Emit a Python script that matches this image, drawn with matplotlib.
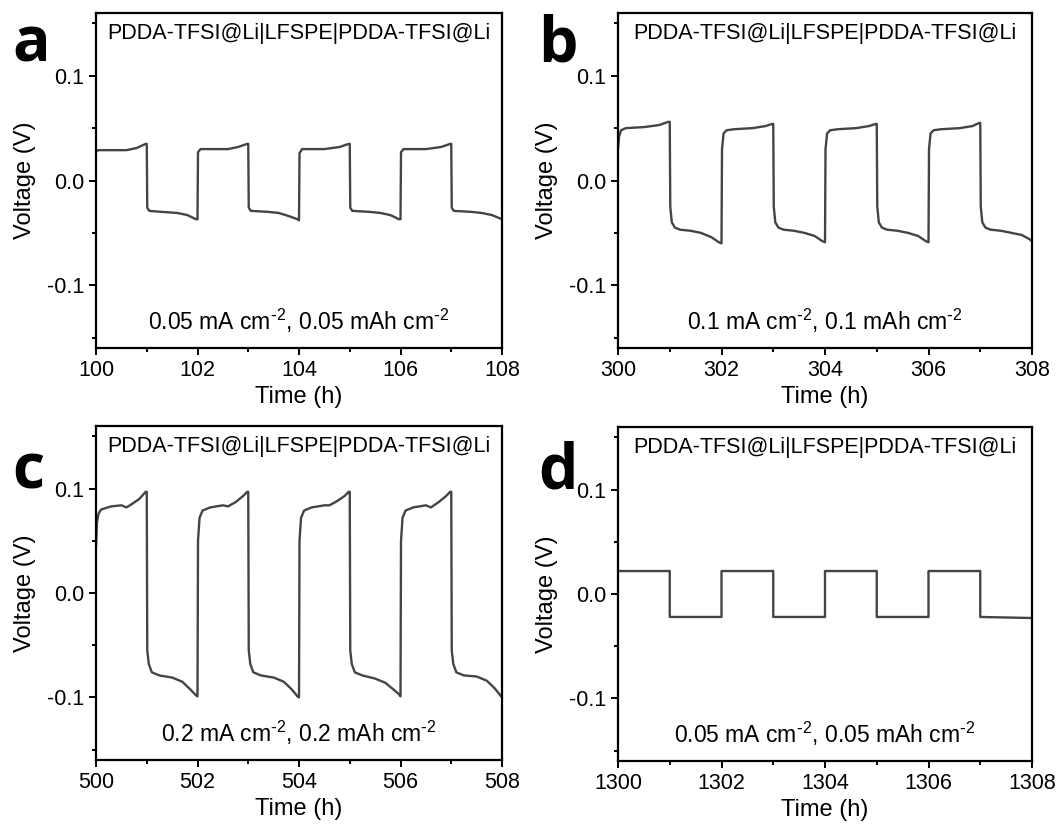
import matplotlib
matplotlib.use("Agg")
import matplotlib.pyplot as plt
from matplotlib.ticker import MultipleLocator, FixedLocator, FixedFormatter

plt.rcParams["font.family"] = ["Liberation Sans", "DejaVu Sans"]
plt.rcParams["mathtext.default"] = "regular"
plt.rcParams["axes.unicode_minus"] = False

# ───────────── data (time in h, voltage in V) ─────────────
cell_label = "PDDA-TFSI@Li|LFSPE|PDDA-TFSI@Li"
panel_letters = ["a", "b", "c", "d"]
condition_labels = [
    r"0.05 mA cm$^{\text{-}2}$, 0.05 mAh cm$^{\text{-}2}$",
    r"0.1 mA cm$^{\text{-}2}$, 0.1 mAh cm$^{\text{-}2}$",
    r"0.2 mA cm$^{\text{-}2}$, 0.2 mAh cm$^{\text{-}2}$",
    r"0.05 mA cm$^{\text{-}2}$, 0.05 mAh cm$^{\text{-}2}$",
]
x_starts = [100, 300, 500, 1300]

time_a = [100.00, 100.05, 100.30, 100.60, 100.80, 100.98, 101.00,
          101.01, 101.05, 101.30, 101.60, 101.80, 101.97, 102.00,
          102.01, 102.06, 102.40, 102.60, 102.80, 102.98, 103.00,
          103.01, 103.05, 103.40, 103.60, 103.80, 103.97, 104.00,
          104.01, 104.06, 104.50, 104.80, 104.98, 105.00,
          105.01, 105.05, 105.40, 105.60, 105.80, 105.97, 106.00,
          106.01, 106.06, 106.50, 106.80, 106.98, 107.00,
          107.01, 107.05, 107.40, 107.60, 107.80, 108.00]
volt_a = [0.028, 0.029, 0.029, 0.029, 0.031, 0.035, 0.035,
          -0.026, -0.029, -0.030, -0.031, -0.033, -0.037, -0.037,
          0.027, 0.030, 0.030, 0.030, 0.032, 0.035, 0.035,
          -0.026, -0.029, -0.030, -0.031, -0.034, -0.037, -0.038,
          0.026, 0.030, 0.030, 0.032, 0.035, 0.035,
          -0.026, -0.029, -0.030, -0.031, -0.033, -0.037, -0.037,
          0.027, 0.030, 0.030, 0.032, 0.035, 0.035,
          -0.026, -0.029, -0.030, -0.031, -0.033, -0.037]

time_b = [300.00, 300.02, 300.06, 300.15, 300.50, 300.80, 300.97, 301.00,
          301.01, 301.04, 301.10, 301.20, 301.40, 301.60, 301.80, 301.95, 302.00,
          302.01, 302.04, 302.10, 302.25, 302.60, 302.85, 302.98, 303.00,
          303.01, 303.04, 303.10, 303.20, 303.40, 303.60, 303.80, 303.95, 304.00,
          304.01, 304.04, 304.10, 304.25, 304.60, 304.85, 304.98, 305.00,
          305.01, 305.04, 305.10, 305.20, 305.40, 305.60, 305.80, 305.95, 306.00,
          306.01, 306.04, 306.10, 306.25, 306.60, 306.85, 306.98, 307.00,
          307.01, 307.04, 307.10, 307.20, 307.40, 307.60, 307.80, 307.95, 308.00]
volt_b = [0.030, 0.042, 0.048, 0.050, 0.051, 0.053, 0.056, 0.056,
          -0.025, -0.040, -0.045, -0.047, -0.048, -0.050, -0.054, -0.059, -0.060,
          0.030, 0.045, 0.048, 0.049, 0.050, 0.052, 0.054, 0.054,
          -0.025, -0.040, -0.045, -0.047, -0.048, -0.050, -0.053, -0.058, -0.059,
          0.030, 0.045, 0.048, 0.049, 0.050, 0.052, 0.054, 0.054,
          -0.025, -0.040, -0.045, -0.047, -0.048, -0.050, -0.053, -0.058, -0.059,
          0.030, 0.045, 0.048, 0.049, 0.050, 0.052, 0.055, 0.055,
          -0.025, -0.040, -0.045, -0.047, -0.048, -0.050, -0.052, -0.056, -0.058]

time_c = [500.00, 500.02, 500.05, 500.10, 500.30, 500.50, 500.60, 500.70, 500.85, 500.98, 501.00,
          501.01, 501.04, 501.10, 501.25, 501.50, 501.70, 501.85, 501.97, 502.00,
          502.01, 502.04, 502.10, 502.25, 502.50, 502.60, 502.75, 502.90, 502.98, 503.00,
          503.01, 503.04, 503.10, 503.25, 503.50, 503.70, 503.85, 503.97, 504.00,
          504.01, 504.04, 504.10, 504.25, 504.50, 504.60, 504.75, 504.90, 504.98, 505.00,
          505.01, 505.04, 505.10, 505.25, 505.50, 505.70, 505.85, 505.97, 506.00,
          506.01, 506.04, 506.10, 506.25, 506.50, 506.60, 506.75, 506.90, 506.98, 507.00,
          507.01, 507.04, 507.10, 507.25, 507.50, 507.70, 507.85, 508.00]
volt_c = [0.045, 0.068, 0.076, 0.080, 0.083, 0.084, 0.082, 0.085, 0.090, 0.097, 0.097,
          -0.055, -0.068, -0.076, -0.079, -0.081, -0.085, -0.092, -0.098, -0.099,
          0.050, 0.072, 0.079, 0.082, 0.084, 0.083, 0.087, 0.093, 0.097, 0.097,
          -0.055, -0.068, -0.076, -0.079, -0.081, -0.085, -0.092, -0.099, -0.100,
          0.050, 0.072, 0.079, 0.082, 0.084, 0.084, 0.088, 0.093, 0.097, 0.097,
          -0.055, -0.068, -0.076, -0.079, -0.082, -0.086, -0.092, -0.097, -0.099,
          0.050, 0.072, 0.079, 0.082, 0.084, 0.082, 0.087, 0.093, 0.097, 0.097,
          -0.055, -0.068, -0.076, -0.079, -0.080, -0.084, -0.091, -0.100]

time_d = [1300.0, 1301.0, 1301.0, 1302.0, 1302.0, 1303.0, 1303.0, 1304.0,
          1304.0, 1305.0, 1305.0, 1306.0, 1306.0, 1307.0, 1307.0, 1308.0]
volt_d = [0.022, 0.022, -0.022, -0.022, 0.022, 0.022, -0.022, -0.022,
          0.022, 0.022, -0.022, -0.022, 0.022, 0.022, -0.022, -0.023]

times = [time_a, time_b, time_c, time_d]
volts = [volt_a, volt_b, volt_c, volt_d]

y_ticks = [-0.1, 0.0, 0.1]
y_tick_labels = ["-0.1", "0.0", "0.1"]

# ───────────── layout (pixel boxes measured on the 1061x830 reference) ─────────────
W, H = 1061, 830
boxes = [(96, 13, 502, 348), (618, 13, 1032, 348),
         (96, 426, 502, 760), (618, 427, 1032, 761)]
letter_pos = [(12, 62), (538, 62), (12, 488), (538, 488)]
line_color = "#444444"

fig = plt.figure(figsize=(W / 100, H / 100), dpi=100)

for i in range(4):
    x0, y0, x1, y1 = boxes[i]
    ax = fig.add_axes([x0 / W, 1 - y1 / H, (x1 - x0) / W, (y1 - y0) / H])
    ax.plot(times[i], volts[i], color=line_color, lw=1.7)

    ax.set_xlim(x_starts[i], x_starts[i] + 8)
    ax.set_ylim(-0.16, 0.16)
    ax.xaxis.set_major_locator(MultipleLocator(2))
    ax.xaxis.set_minor_locator(MultipleLocator(1))
    ax.yaxis.set_major_locator(FixedLocator(y_ticks))
    ax.yaxis.set_major_formatter(FixedFormatter(y_tick_labels))
    ax.yaxis.set_minor_locator(FixedLocator([-0.15, -0.05, 0.05, 0.15]))

    ax.tick_params(which="both", direction="out", width=1.4, labelsize=15.5)
    ax.tick_params(which="major", length=5)
    ax.tick_params(which="minor", length=3)
    for sp in ax.spines.values():
        sp.set_linewidth(1.6)

    ax.set_xlabel("Time (h)", fontsize=17, labelpad=4)
    ax.set_ylabel("Voltage (V)", fontsize=17, labelpad=8)

    ax.text(0.5, 0.94, cell_label, transform=ax.transAxes,
            ha="center", va="center", fontsize=15.5)
    ax.text(0.5, 0.08, condition_labels[i], transform=ax.transAxes,
            ha="center", va="center", fontsize=16.5)

    lx, ly = letter_pos[i]
    fig.text(lx / W, 1 - ly / H, panel_letters[i], fontsize=45,
             fontweight="bold", family=["Open Sans", "DejaVu Sans"],
             ha="left", va="baseline")

fig.savefig("out.png", dpi=100, facecolor="white")
